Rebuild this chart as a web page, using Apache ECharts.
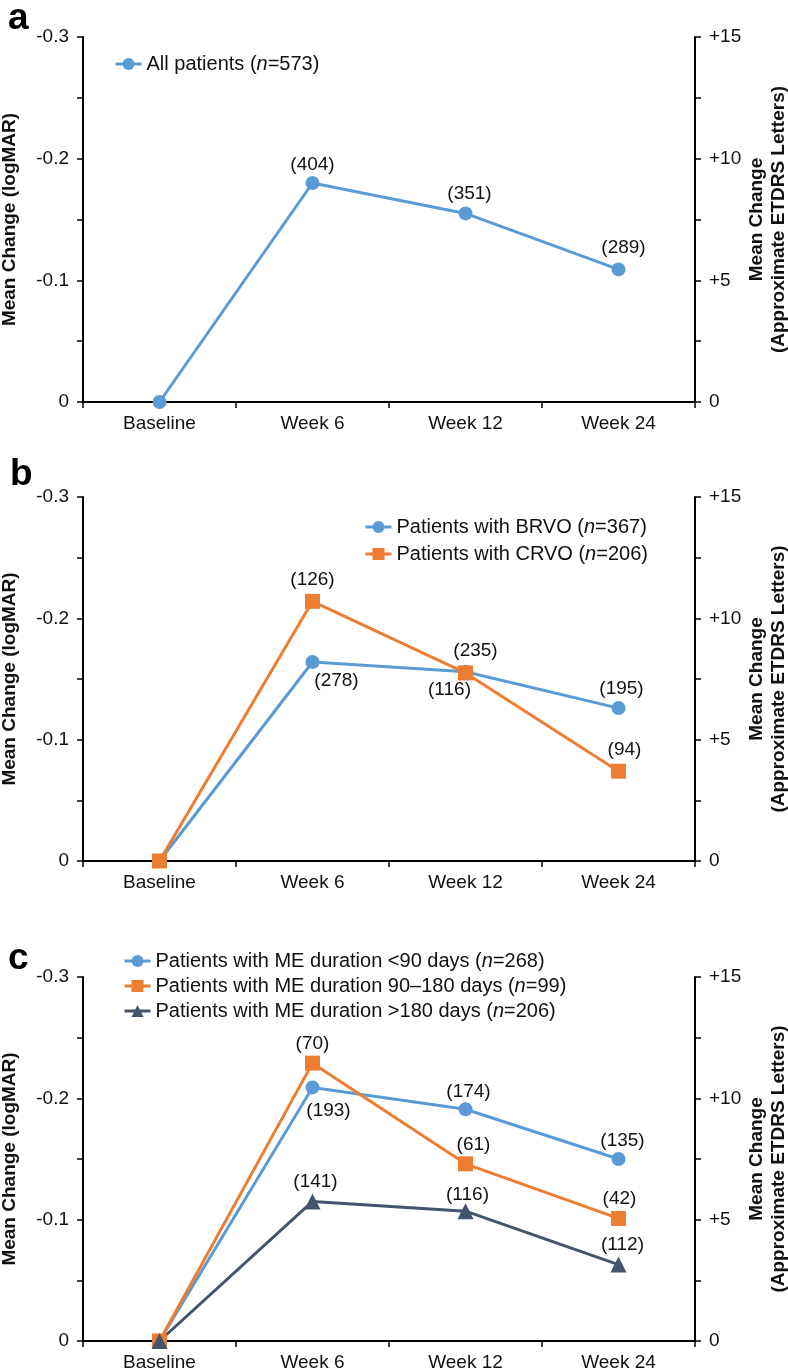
<!DOCTYPE html>
<html>
<head>
<meta charset="utf-8">
<script src="https://cdn.jsdelivr.net/npm/echarts@6/dist/echarts.min.js"></script>
<style>
  html, body { margin: 0; padding: 0; background: #fff; }
  #chart { width: 788px; height: 1371px; }
</style>
</head>
<body>
<div id="chart"></div>
<script>
// ---------- data ----------
const categories = ['Baseline', 'Week 6', 'Week 12', 'Week 24'];
const leftTickLabels = ['-0.3', '-0.2', '-0.1', '0'];
const rightTickLabels = ['0', '+5', '+10', '+15'];
const panelLetters = ['a', 'b', 'c'];

// panel a
const allPatients = [0, -0.180, -0.155, -0.109];
const allPatientsN = [null, 404, 351, 289];
// panel b
const brvo = [0, -0.164, -0.156, -0.126];
const brvoN = [null, 278, 235, 195];
const crvo = [0, -0.214, -0.155, -0.074];
const crvoN = [null, 126, 116, 94];
// panel c
const meUnder90 = [0, -0.209, -0.191, -0.150];
const meUnder90N = [null, 193, 174, 135];
const me90to180 = [0, -0.229, -0.146, -0.101];
const me90to180N = [null, 70, 61, 42];
const meOver180 = [0, -0.115, -0.107, -0.063];
const meOver180N = [null, 141, 116, 112];

const legendA = ['All patients (n=573)'];
const legendB = ['Patients with BRVO (n=367)', 'Patients with CRVO (n=206)'];
const legendC = ['Patients with ME duration <90 days (n=268)',
                 'Patients with ME duration 90\u2013180 days (n=99)',
                 'Patients with ME duration >180 days (n=206)'];

// ---------- styling ----------
const FONT = '"Liberation Sans", Arial, Helvetica, sans-serif';
const TXT = '#111';
const BLUE = '#5B9BD5', ORANGE = '#ED7D31', SLATE = '#44546A';

// label placement per point: [position, dx, dy]
const placeAll = [null, ['top', 0, 1], ['top', 4, 0], ['top', 5, -2]];
const placeBrvo = [null, ['bottom', 24, -1], ['top', 10, -1], ['top', 3, 0]];
const placeCrvo = [null, ['top', 0, -2], ['bottom', -16, -3], ['top', 6, -1]];
const placeU90 = [null, ['bottom', 16, 4], ['top', 3, 2], ['top', 4, 1]];
const place90 = [null, ['top', 0, 1], ['top', 8, 1], ['top', 1, 0]];
const placeO180 = [null, ['top', 3, 1], ['top', 2, 4], ['top', 4, 1]];

const grids = [
  { left: 83, right: 93, top: 37, height: 365, containLabel: false, outerBoundsMode: 'none' },
  { left: 83, right: 93, top: 497, height: 364, containLabel: false, outerBoundsMode: 'none' },
  { left: 83, right: 93, top: 977, height: 364, containLabel: false, outerBoundsMode: 'none' }
];

function xAxisFor(i) {
  return {
    type: 'category', gridIndex: i, data: categories, boundaryGap: true,
    axisLine: { lineStyle: { color: '#000', width: 2 } },
    axisTick: { show: true, length: 6, alignWithLabel: false, lineStyle: { color: '#000', width: 1.5 } },
    axisLabel: { color: TXT, fontSize: 19, fontFamily: FONT, margin: 12 }
  };
}
function leftAxisFor(i) {
  return {
    type: 'value', gridIndex: i, position: 'left', min: -0.3, max: 0, interval: 0.1, inverse: true,
    name: 'Mean Change (logMAR)', nameLocation: 'middle', nameRotate: 90, nameGap: 63.5,
    nameMoveOverlap: false,
    nameTextStyle: { color: TXT, fontSize: 19, fontWeight: 'bold', fontFamily: FONT },
    axisLine: { show: true, lineStyle: { color: '#000', width: 2 } },
    axisTick: { show: true, length: 6, lineStyle: { color: '#000', width: 1.5 } },
    minorTick: { show: true, splitNumber: 2, length: 6, lineStyle: { color: '#000', width: 1.5 } },
    splitLine: { show: false },
    axisLabel: {
      color: TXT, fontSize: 19, fontFamily: FONT, margin: 14,
      formatter: v => leftTickLabels[Math.round((v + 0.3) / 0.1)]
    }
  };
}
function rightAxisFor(i) {
  return {
    type: 'value', gridIndex: i, position: 'right', min: 0, max: 15, interval: 5,
    name: 'Mean Change\n(Approximate ETDRS Letters)', nameLocation: 'middle', nameRotate: 90, nameGap: 51,
    nameMoveOverlap: false,
    nameTextStyle: { color: TXT, fontSize: 19, fontWeight: 'bold', fontFamily: FONT, lineHeight: 22 },
    axisLine: { show: true, lineStyle: { color: '#000', width: 2 } },
    axisTick: { show: true, length: 6, lineStyle: { color: '#000', width: 1.5 } },
    minorTick: { show: true, splitNumber: 2, length: 6, lineStyle: { color: '#000', width: 1.5 } },
    splitLine: { show: false },
    axisLabel: {
      color: TXT, fontSize: 19, fontFamily: FONT, margin: 14,
      formatter: v => rightTickLabels[Math.round(v / 5)]
    }
  };
}

function buildData(values, ns, places) {
  return values.map((v, k) => {
    if (ns[k] == null) return { value: v, label: { show: false } };
    const p = places[k];
    return {
      value: v,
      label: { show: true, formatter: '(' + ns[k] + ')', position: p[0], offset: [p[1], p[2]] }
    };
  });
}

function lineSeries(name, gridIdx, values, ns, places, color, symbol, size) {
  return {
    type: 'line', name: name, xAxisIndex: gridIdx, yAxisIndex: gridIdx * 2,
    data: buildData(values, ns, places),
    symbol: symbol, symbolSize: size,
    lineStyle: { color: color, width: 3 },
    itemStyle: { color: color },
    label: { distance: 3, color: TXT, fontSize: 19, fontFamily: FONT },
    emphasis: { disabled: true },
    animation: false, z: 3
  };
}

function legendFmt(name) {
  return name.replace('(n=', '({i|n}=');
}
function legendFor(names, left, top, gap) {
  return {
    data: names, orient: 'vertical', left: left, top: top, itemGap: gap, padding: 0,
    itemWidth: 26, itemHeight: 15,
    lineStyle: { width: 3 },
    formatter: legendFmt, selectedMode: false,
    textStyle: {
      color: TXT, fontSize: 20, fontFamily: FONT,
      rich: { i: { fontStyle: 'italic', fontSize: 20, fontFamily: FONT, color: TXT } }
    }
  };
}

const series = [
  lineSeries(legendA[0], 0, allPatients, allPatientsN, placeAll, BLUE, 'circle', 14),
  lineSeries(legendB[0], 1, brvo, brvoN, placeBrvo, BLUE, 'circle', 14),
  lineSeries(legendB[1], 1, crvo, crvoN, placeCrvo, ORANGE, 'rect', 15),
  lineSeries(legendC[0], 2, meUnder90, meUnder90N, placeU90, BLUE, 'circle', 14),
  lineSeries(legendC[1], 2, me90to180, me90to180N, place90, ORANGE, 'rect', 15),
  lineSeries(legendC[2], 2, meOver180, meOver180N, placeO180, SLATE, 'triangle', 16)
];

const letterPos = [[8, 0], [10, 456], [8, 940]];

const option = {
  backgroundColor: '#fff',
  animation: false,
  grid: grids,
  xAxis: [0, 1, 2].map(xAxisFor),
  yAxis: [0, 1, 2].flatMap(i => [leftAxisFor(i), rightAxisFor(i)]),
  legend: [
    legendFor(legendA, 114, 54, 8),
    legendFor(legendB, 364, 517, 7),
    legendFor(legendC, 123, 951, 5)
  ],
  graphic: panelLetters.map((t, i) => ({
    type: 'text', left: letterPos[i][0], top: letterPos[i][1],
    style: { text: t, font: 'bold 37px ' + FONT, fill: '#000' }
  })),
  series: series
};

const chart = echarts.init(document.getElementById('chart'), null, { renderer: 'canvas', width: 788, height: 1371 });
chart.setOption(option);
</script>
</body>
</html>
